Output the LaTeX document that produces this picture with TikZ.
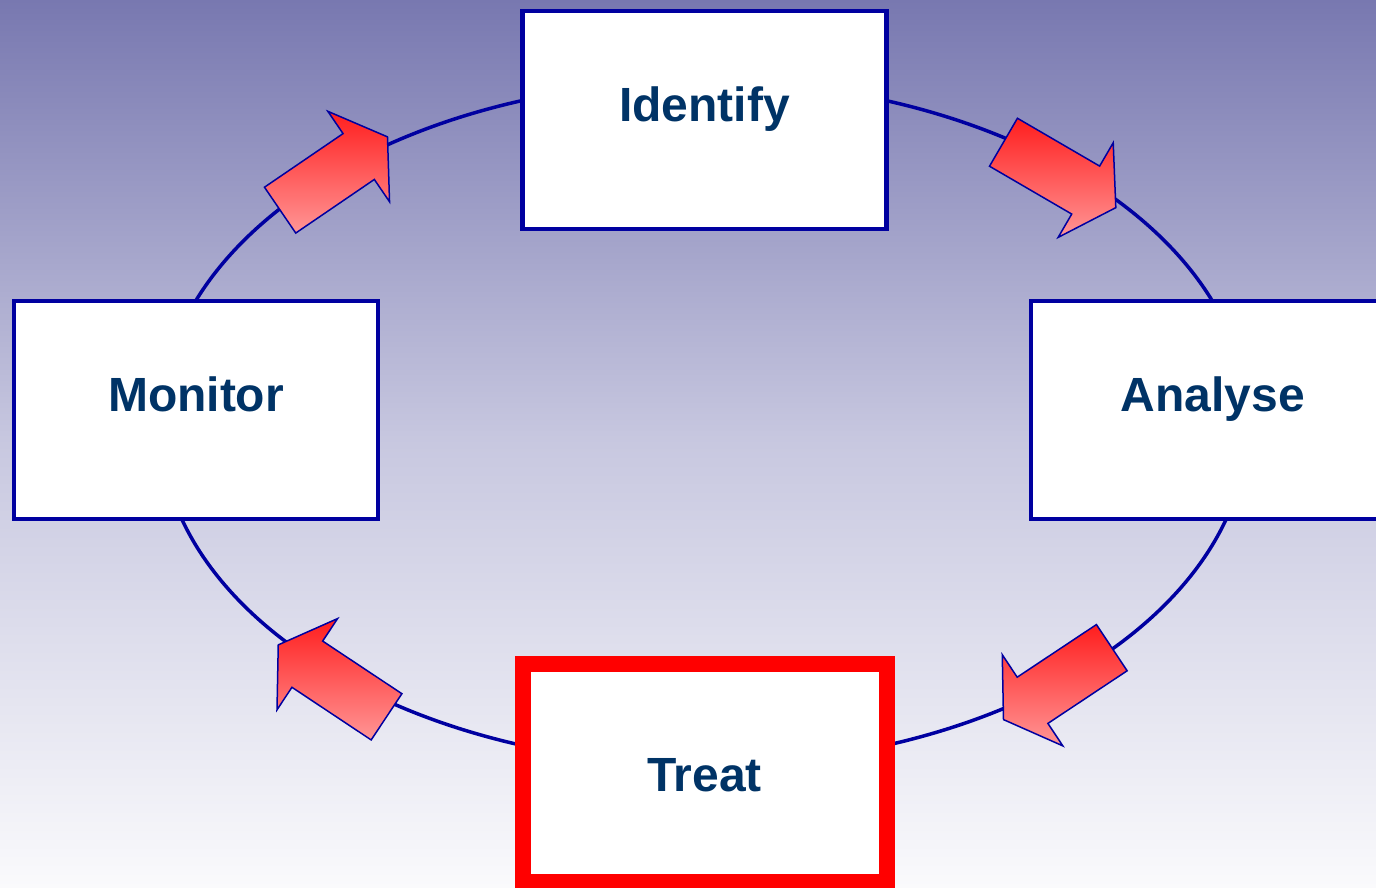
\documentclass[tikz,border=0pt]{standalone}
\usepackage{fontspec}
\setmainfont{Liberation Sans}
\usetikzlibrary{shapes.arrows}
\definecolor{boxblue}{RGB}{0,0,160}
\definecolor{textblue}{RGB}{0,51,102}
\definecolor{skytop}{RGB}{120,120,176}
\definecolor{skymid}{RGB}{200,200,224}
\definecolor{skybottom}{RGB}{250,250,252}
\definecolor{flowred}{RGB}{255,30,30}
\definecolor{flowpink}{RGB}{255,150,150}

\begin{document}
\begin{tikzpicture}[x=1pt, y=1pt,
        stage/.style={draw=boxblue, line width=4.5pt, fill=white, minimum width=364pt, minimum height=218pt,
            inner sep=0pt, text=textblue, font=\fontsize{48}{56}\selectfont\bfseries, text height=36pt, text depth=32pt},
        flow/.style={single arrow, draw=boxblue, line width=1.5pt, minimum height=130pt,
            inner xsep=0pt, inner ysep=27pt, single arrow head extend=27pt, single arrow tip angle=115, rotate=#1,
            top color=flowred, bottom color=flowpink}]
        \clip (0,0) rectangle (1376,888);
        \shade[top color=skytop, bottom color=skybottom, middle color=skymid] (0,0) rectangle (1376,888);

        \coordinate (hub) at (704,465);
        \draw[boxblue, line width=3.5pt] (hub) ellipse [x radius=544pt, y radius=342pt];

        \node[flow=34.3] (a1) at (326.5,709.5) {};
        \node[flow=-30.2] (a2) at (1052,717.5) {};
        \node[flow=213.6] (a3) at (1065,209.25) {};
        \node[flow=146.4] (a4) at (339.75,202.25) {};

        \node[stage] (identify) at (704.5,768) {Identify};
        \node[stage] (analyse) at (1213,478) {Analyse};
        \node[stage] (monitor) at (196,478) {Monitor};
        \node[stage, draw=red, line width=16pt, text depth=0pt] (treat) at (704.5,114.5) {Treat};
    \end{tikzpicture}
\end{document}
